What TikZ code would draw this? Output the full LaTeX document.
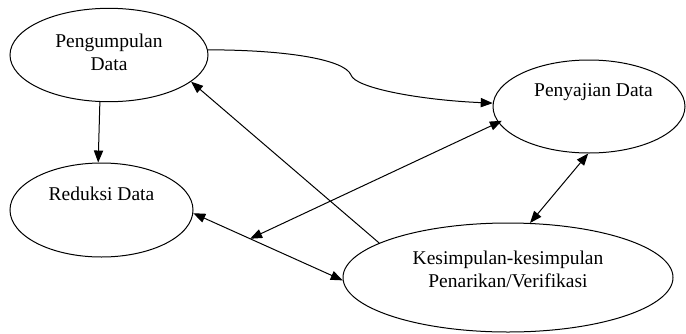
\documentclass[tikz,border=0pt]{standalone}
\usepackage{fontspec}
\setmainfont{Liberation Serif}
\usetikzlibrary{shapes.geometric,arrows.meta,calc}

\begin{document}
\begin{tikzpicture}[x=0.5pt, y=-0.5pt, line width=0.5pt, >={Triangle[length=6pt,width=4.6pt]}]
		\tikzstyle{every node}=[inner sep=1pt, align=center, font=\fontsize{9.75}{11.4}\selectfont]
		\tikzstyle{oval}=[draw, ellipse, inner sep=0pt]
		\useasboundingbox (0,0) rectangle (686,333);
		\node [oval, minimum width=99pt, minimum height=46.7pt, label={[yshift=1.25pt]center:Pengumpulan\\Data}] (P) at (109,55) {};
		\node [oval, minimum width=91.5pt, minimum height=47pt, label={[yshift=8pt]center:Reduksi Data}] (R) at (101.5,210) {};
		\node [oval, minimum width=96pt, minimum height=46.5pt, label={[xshift=2.25pt, yshift=7.2pt]center:Penyajian Data}] (S) at (589,106.5) {};
		\node [oval, minimum width=165pt, minimum height=54.5pt, label={[yshift=4.25pt]center:Kesimpulan-kesimpulan\\Penarikan/Verifikasi}] (K) at (508,277.5) {};
		\coordinate (T) at ($(R.358)!0.38!(K.181)$);
		\draw [->] (P.259) -- (R.94);
		\draw [->] (P.3) .. controls (290,50) and (345,60) .. (351,75) .. controls (355,88) and (420,100) .. (S.178);
		\draw [->] (K.165) -- (P.342);
		\draw [<->, shorten <=-2pt] (S.190) -- (T);
		\draw [<->] (R.358) -- (K.181);
		\draw [<->] (S.269) -- (K.68);
\end{tikzpicture}
\end{document}
